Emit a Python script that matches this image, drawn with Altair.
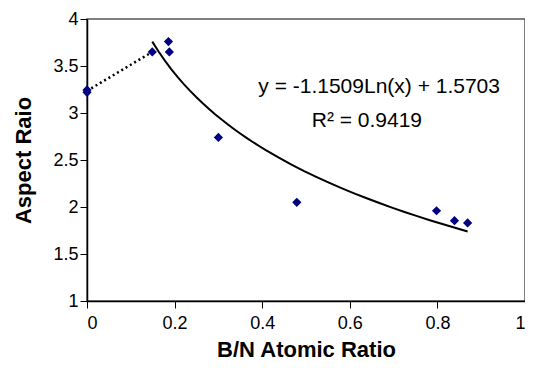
import altair as alt
import pandas as pd

# data
bn_ratio = [0.0, 0.0, 0.149, 0.186, 0.188, 0.30, 0.479, 0.798, 0.839, 0.869]
aspect_ratio = [3.22, 3.245, 3.65, 3.76, 3.65, 2.74, 2.05, 1.96, 1.855, 1.83]

dotted_x = [0.0, 0.149]
dotted_y = [3.235, 3.65]

eq_lines = ["y = -1.1509Ln(x) + 1.5703", "R² = 0.9419"]
eq_x = [0.667, 0.639]
eq_y = [3.275, 2.91]

df = pd.DataFrame({"x": bn_ratio, "y": aspect_ratio})
df_fit = df[df["x"] > 0]
df_dot = pd.DataFrame({"x": dotted_x, "y": dotted_y})
df_txt = pd.DataFrame({"x": eq_x, "y": eq_y, "t": eq_lines})

FONT = "Liberation Sans"

xscale = alt.Scale(domain=[0, 1], nice=False, zero=False)
yscale = alt.Scale(domain=[1, 4], nice=False, zero=False)

xaxis = alt.Axis(
    title="B/N Atomic Ratio", values=[0, 0.2, 0.4, 0.6, 0.8, 1],
    format="~g", grid=False, tickSize=7, labelPadding=6,
    titlePadding=7,
)
yaxis = alt.Axis(
    title="Aspect Raio", values=[1, 1.5, 2, 2.5, 3, 3.5, 4],
    format="~g", grid=False, tickSize=7, labelPadding=2,
    titlePadding=17,
)

points = alt.Chart(df).mark_point(
    shape="diamond", filled=True, color="#000080", size=85, opacity=1
).encode(
    x=alt.X("x:Q", scale=xscale, axis=xaxis),
    y=alt.Y("y:Q", scale=yscale, axis=yaxis),
)

dotted = alt.Chart(df_dot).mark_line(
    color="black", strokeWidth=2.5, strokeDash=[2, 3]
).encode(x=alt.X("x:Q", scale=xscale), y=alt.Y("y:Q", scale=yscale))

trend = alt.Chart(df_fit).transform_regression(
    "x", "y", method="log"
).mark_line(color="black", strokeWidth=2).encode(
    x=alt.X("x:Q", scale=xscale), y=alt.Y("y:Q", scale=yscale)
)

text = alt.Chart(df_txt).mark_text(
    font=FONT, fontSize=21, color="black", align="center", baseline="middle"
).encode(x=alt.X("x:Q", scale=xscale), y=alt.Y("y:Q", scale=yscale), text="t:N")

chart = alt.layer(dotted, trend, points, text).properties(
    width=438, height=282,
    background="white",
    autosize=alt.AutoSizeParams(type="none"),
    padding={"left": 79, "top": 11, "right": 0, "bottom": 62},
).configure_view(
    stroke="#555555", strokeWidth=1.5
).configure_axis(
    domainColor="black", domainWidth=1.5, tickColor="black", tickWidth=1,
    labelFont=FONT, labelFontSize=18, labelColor="black",
    titleFont=FONT, titleFontSize=22, titleFontWeight="bold", titleColor="black",
)

chart.save("out.html", embed_options={"renderer": "svg", "actions": False})
